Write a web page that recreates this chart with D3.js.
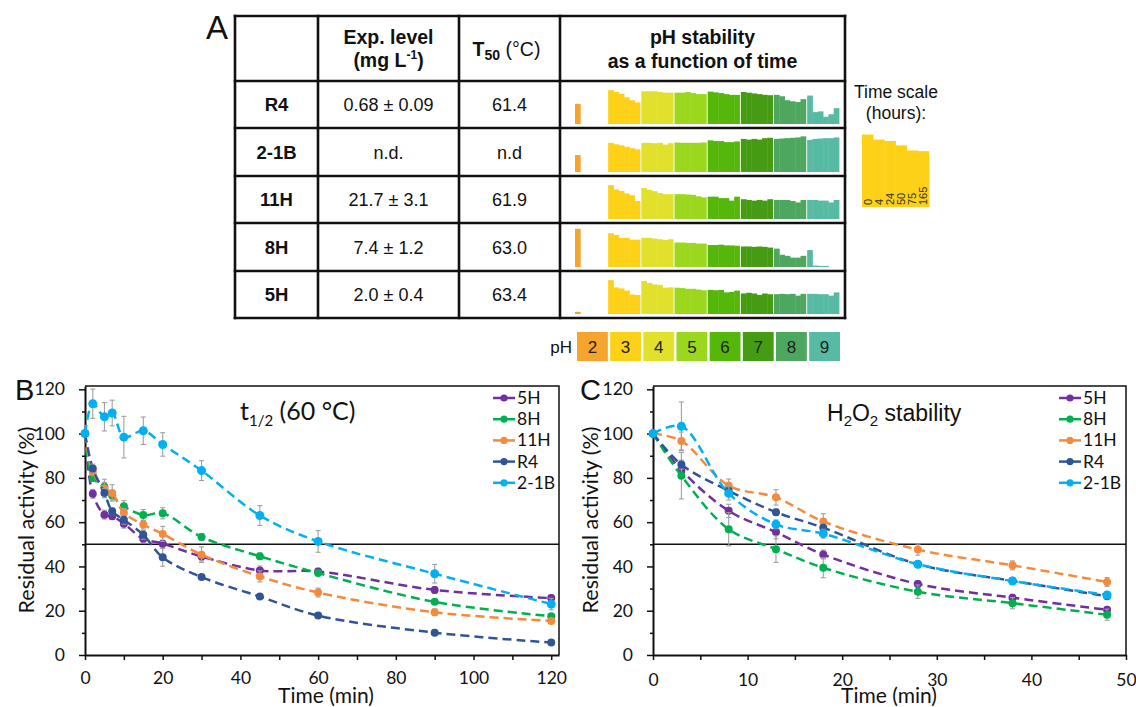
<!DOCTYPE html>
<html><head><meta charset="utf-8">
<script src="https://cdn.jsdelivr.net/npm/d3@7"></script>
<style>body{margin:0;background:#fff}svg{display:block}</style>
</head><body>
<svg id="c" width="1136" height="707"></svg>
<script>
// ===== Panel A data =====
const variants = ["R4", "2-1B", "11H", "8H", "5H"];
const expLevel = ["0.68 ± 0.09", "n.d.", "21.7 ± 3.1", "7.4 ± 1.2", "2.0 ± 0.4"];
const t50 = ["61.4", "n.d", "61.9", "63.0", "63.4"];
const phLevels = [2, 3, 4, 5, 6, 7, 8, 9];
const hours = ["0", "4", "24", "50", "75", "165"];
// relative activity (%) per pH (2..9) at 0, 4, 24, 50, 75, 165 h
const stabR4 = [[56], [94,89,84,74,66,60], [91,91,91,89,87,87], [87,87,89,86,83,83], [90,88,86,83,81,81], [89,87,85,83,81,80], [81,77,66,63,61,69], [79,33,35,20,27,44]];
const stab21B = [[47], [81,77,74,70,66,63], [81,81,80,81,76,80], [82,81,81,81,81,82], [88,86,86,83,83,85], [92,90,92,90,94,95], [92,93,94,95,96,99], [89,92,93,94,94,96]];
const stab11H = [[0], [94,82,78,71,66,50], [86,81,77,72,69,69], [69,69,68,67,63,60], [62,62,58,58,51,62], [55,53,51,53,51,55], [53,53,53,50,46,53], [53,53,51,51,46,53]];
const stab8H = [[106], [94,89,81,81,76,76], [81,81,79,77,75,77], [68,68,67,67,65,65], [61,61,62,60,60,59], [57,57,56,57,56,54], [51,34,31,26,26,31], [47,4,3,3,0,0]];
const stab5H = [[6], [94,74,71,65,54,53], [92,86,82,81,73,74], [73,72,70,70,68,66], [67,66,67,60,61,65], [57,59,57,53,57,55], [55,56,55,56,51,56], [56,56,55,55,51,60]];
const timeScaleDemo = [100, 93, 91, 85, 78, 77];
const phColors = ["#F5A42E", "#FCD118", "#E1E02C", "#9AD71D", "#55B70A", "#459C13", "#4EA75F", "#57BAA2"];

// ===== Panel B data (t1/2 at 60 °C) =====
const timesB = [0, 2, 5, 7, 10, 15, 20, 30, 45, 60, 90, 120];
const b5H   = [100, 72.8, 63.4, 62.7, 59.3, 52.5, 50.3, 44.5, 38.2, 37.7, 29.4, 25.7];
const b5Herr= [0, 2, 2, 1.5, 2, 1.5, 1.5, 2, 2, 1.5, 1.5, 1.5];
const b8H   = [100, 80, 76, 72, 67.2, 63.2, 64, 53.3, 44.6, 37, 24, 17.5];
const b8Herr= [0, 1.5, 2, 2, 2.5, 2.5, 2.5, 1.5, 1.5, 1, 1, 1];
const b11H  = [100, 82.7, 75.2, 73.2, 64.2, 58.9, 54.7, 45.3, 35.5, 28.2, 19.3, 15.4];
const b11Herr=[0, 1, 4.2, 3.7, 2, 2, 3.4, 3.5, 2.5, 2, 1.5, 1];
const bR4   = [100, 84.2, 73.2, 64.9, 61.1, 54.3, 44.1, 35.2, 26.4, 17.8, 10.1, 5.6];
const bR4err= [0, 2, 2, 1.5, 2, 2, 4, 1, 0.5, 0.5, 0.5, 0.5];
const b21B  = [100, 113.5, 107.6, 109.3, 98.4, 101.3, 95.1, 83.3, 63, 51.3, 36.7, 23];
const b21Berr=[0, 6.6, 6.4, 5.8, 9.4, 6.2, 5.3, 4.5, 4.5, 4.9, 4.2, 2.6];

// ===== Panel C data (H2O2 stability) =====
const timesC = [0, 3, 8, 13, 18, 28, 38, 48];
const c5H   = [100, 83.5, 65.1, 55.5, 45.4, 32.1, 25.9, 20.4];
const c5Herr= [0, 3, 3, 3, 2, 1.5, 1.5, 1.5];
const c8H   = [100, 81, 56.8, 47.8, 39.4, 28.6, 23.4, 18.2];
const c8Herr= [0, 10.5, 7.5, 6, 4.5, 3, 2.5, 2.5];
const c11H  = [100, 96.7, 76.5, 71.2, 60.3, 47.6, 40.5, 33];
const c11Herr=[0, 4, 3, 3.5, 3.5, 2.5, 2, 2];
const cR4   = [100, 86, 74.2, 64.5, 57.5, 41, 33.5, 26.5];
const cR4err= [0, 2, 2, 1.5, 2, 1, 1, 1];
const c21B  = [100, 103.3, 73, 59, 54.8, 41, 33.4, 27.1];
const c21Berr=[0, 11, 3, 2, 2, 1.5, 1.5, 1.5];

const seriesNames = ["5H", "8H", "11H", "R4", "2-1B"];
const seriesColors = ["#7030A0", "#00B050", "#F58A3C", "#2F5597", "#00B0F0"];

const svg = d3.select("#c");
const SANS = "'Liberation Sans', Arial, sans-serif";
const CAL = "Lato, sans-serif";

// ===== Panel A =====
(function () {
  const colX = [235, 318, 459, 560, 845];
  const rowY = [16, 81, 128, 176, 223, 271, 318];
  const g = svg.append("g").attr("font-family", SANS).attr("fill", "#111");

  g.append("text").attr("x", 206).attr("y", 39).attr("font-size", 33).text("A");

  const hdr = g.append("g").attr("font-weight", "bold").attr("font-size", 19.5).attr("text-anchor", "middle");
  const c1 = (colX[1] + colX[2]) / 2, c2 = (colX[2] + colX[3]) / 2, c3 = (colX[3] + colX[4]) / 2;
  hdr.append("text").attr("x", c1).attr("y", 44).text("Exp. level");
  const ml = hdr.append("text").attr("x", c1).attr("y", 67);
  ml.append("tspan").text("(mg L");
  ml.append("tspan").attr("font-size", 12).attr("dy", -8).text("-1");
  ml.append("tspan").attr("dy", 8).text(")");
  const tt = hdr.append("text").attr("x", c2 - 3).attr("y", 56);
  tt.append("tspan").text("T");
  tt.append("tspan").attr("font-size", 14).attr("dy", 4).text("50");
  tt.append("tspan").attr("dy", -4).attr("font-weight", "normal").text(" (°C)");
  hdr.append("text").attr("x", c3).attr("y", 44).text("pH stability");
  hdr.append("text").attr("x", c3).attr("y", 68).text("as a function of time");

  const c0 = (colX[0] + colX[1]) / 2;
  variants.forEach((v, i) => {
    const yc = (rowY[i + 1] + rowY[i + 2]) / 2 + 6.5;
    g.append("text").attr("x", c0).attr("y", yc).attr("text-anchor", "middle").attr("font-weight", "bold").attr("font-size", 18.5).text(v);
    g.append("text").attr("x", c1).attr("y", yc).attr("text-anchor", "middle").attr("font-size", 18).text(expLevel[i]);
    g.append("text").attr("x", c2).attr("y", yc).attr("text-anchor", "middle").attr("font-size", 18).text(t50[i]);
  });

  // mini bar charts
  const allStab = [stabR4, stab21B, stab11H, stab8H, stab5H];
  const xg = d3.scaleBand().domain(phLevels).range([575, 839]).paddingInner(0.04);
  const xi = d3.scaleBand().domain(d3.range(hours.length)).range([0, xg.bandwidth()]);
  const hScale = d3.scaleLinear().domain([0, 100]).range([0, 36]);
  allStab.forEach((rows, r) => {
    const base = rowY[r + 2] - 4;
    rows.forEach((vals, p) => {
      vals.forEach((v, k) => {
        if (v <= 0) return;
        g.append("rect")
          .attr("x", xg(phLevels[p]) + xi(k))
          .attr("width", xi.bandwidth() + 0.4)
          .attr("y", base - hScale(v))
          .attr("height", hScale(v))
          .attr("fill", phColors[p]);
      });
    });
  });

  // grid lines of the table
  const lines = g.append("g").attr("stroke", "#111").attr("stroke-width", 2.6).attr("stroke-linecap", "square");
  rowY.forEach(y => lines.append("line").attr("x1", colX[0]).attr("x2", colX[4]).attr("y1", y).attr("y2", y));
  colX.forEach(x => lines.append("line").attr("x1", x).attr("x2", x).attr("y1", rowY[0]).attr("y2", rowY[rowY.length - 1]));

  // time scale legend
  g.append("text").attr("x", 896).attr("y", 98).attr("text-anchor", "middle").attr("font-size", 17.5).text("Time scale");
  g.append("text").attr("x", 896).attr("y", 119).attr("text-anchor", "middle").attr("font-size", 17.5).text("(hours):");
  const xt = d3.scaleBand().domain(hours).range([862, 929]);
  const ht = d3.scaleLinear().domain([0, 100]).range([0, 72.5]);
  hours.forEach((h, k) => {
    g.append("rect").attr("x", xt(h)).attr("width", xt.bandwidth() + 0.4)
      .attr("y", 207 - ht(timeScaleDemo[k])).attr("height", ht(timeScaleDemo[k])).attr("fill", phColors[1]);
  });
  hours.forEach((h, k) => {
    const cx = xt(h) + xt.bandwidth() / 2;
    g.append("text").attr("transform", `translate(${cx + 4},205) rotate(-90)`)
      .attr("font-size", 11).attr("fill", "#333").text(h);
  });

  // pH legend
  g.append("text").attr("x", 572).attr("y", 353).attr("text-anchor", "end").attr("font-size", 17).text("pH");
  phLevels.forEach((p, k) => {
    g.append("rect").attr("x", xg(p) + 2).attr("width", xg.bandwidth() - 1).attr("y", 332).attr("height", 29).attr("fill", phColors[k]);
    g.append("text").attr("x", xg(p) + 2 + (xg.bandwidth() - 1) / 2).attr("y", 353).attr("text-anchor", "middle").attr("font-size", 17).attr("fill", "#222").text(p);
  });
})();

// ===== Line charts =====
const yMax = 121.5;
function drawChart(cfg) {
  const x = d3.scaleLinear().domain(cfg.xDomain).range(cfg.xRange);
  const y = d3.scaleLinear().domain([0, yMax]).range([655, 386]);
  const [x0, x1] = cfg.xRange;
  const g = svg.append("g");

  g.append("path").attr("d", `M${x0},${y(yMax)}H${x1}V${y(0)}`).attr("fill", "none").attr("stroke", "#111").attr("stroke-width", 1.5);
  g.append("line").attr("x1", x0).attr("x2", x1).attr("y1", y(50)).attr("y2", y(50)).attr("stroke", "#111").attr("stroke-width", 1.5);

  const yMajor = d3.range(0, 121, 20), yMinor = d3.range(10, 120, 20);
  g.append("g").attr("transform", `translate(${x0},0)`)
    .call(d3.axisLeft(y).tickValues(yMajor).tickSize(6).tickPadding(cfg.yPad).tickSizeOuter(0));
  g.append("g").attr("transform", `translate(${x0},0)`)
    .call(d3.axisLeft(y).tickValues(yMinor).tickSize(3).tickFormat("").tickSizeOuter(0))
    .select(".domain").remove();
  g.append("g").attr("transform", `translate(0,${y(0)})`)
    .call(d3.axisBottom(x).tickValues(cfg.xMajor).tickSize(5).tickPadding(cfg.xPad).tickSizeOuter(0));
  g.append("g").attr("transform", `translate(0,${y(0)})`)
    .call(d3.axisBottom(x).tickValues(cfg.xMinor).tickSize(5).tickFormat("").tickSizeOuter(0))
    .select(".domain").remove();
  g.selectAll(".domain").attr("stroke", "#111").attr("stroke-width", 2);
  g.selectAll(".tick line").attr("stroke", "#111").attr("stroke-width", 1.5);
  g.selectAll(".tick text").attr("font-family", CAL).attr("font-size", 17.5).attr("fill", "#111");

  // titles
  g.append("text").attr("x", cfg.xTitleX).attr("y", cfg.xTitleY).attr("text-anchor", "middle")
    .attr("font-family", CAL).attr("font-size", 21).attr("fill", "#111").text("Time (min)");
  g.append("text").attr("transform", `translate(${cfg.yTitleX},520) rotate(-90)`).attr("text-anchor", "middle")
    .attr("font-family", CAL).attr("font-size", 21.5).attr("fill", "#111").text("Residual activity (%)");
  g.append("text").attr("x", cfg.letterX).attr("y", 400).attr("font-family", SANS).attr("font-size", 29).attr("fill", "#111").text(cfg.letter);

  cfg.drawLabel(g);

  const line = d3.line().x(d => x(d.t)).y(d => y(d.v)).curve(d3.curveCatmullRom.alpha(0.5));
  cfg.series.forEach((s, si) => {
    const pts = cfg.times.map((t, i) => ({ t, v: s.values[i], e: s.err[i] }));
    const sg = g.append("g");
    sg.append("path").attr("d", line(pts)).attr("fill", "none").attr("stroke", seriesColors[si])
      .attr("stroke-width", 2.5).attr("stroke-dasharray", "9,5");
    pts.filter(d => d.e > 0).forEach(d => {
      const px = x(d.t);
      const eg = sg.append("g").attr("stroke", "#A0A0A0").attr("stroke-width", 1.1);
      eg.append("line").attr("x1", px).attr("x2", px).attr("y1", y(d.v - d.e)).attr("y2", y(d.v + d.e));
      eg.append("line").attr("x1", px - 2.5).attr("x2", px + 2.5).attr("y1", y(d.v - d.e)).attr("y2", y(d.v - d.e));
      eg.append("line").attr("x1", px - 2.5).attr("x2", px + 2.5).attr("y1", y(d.v + d.e)).attr("y2", y(d.v + d.e));
    });
    sg.selectAll("circle").data(pts).join("circle")
      .attr("cx", d => x(d.t)).attr("cy", d => y(d.v))
      .attr("r", s.name === "2-1B" ? 4.5 : 4).attr("fill", seriesColors[si]);
  });

  // legend
  const lg = g.append("g");
  cfg.series.forEach((s, si) => {
    const ly = 398 + si * 21.2;
    lg.append("line").attr("x1", cfg.legX).attr("x2", cfg.legX + 8).attr("y1", ly).attr("y2", ly).attr("stroke", seriesColors[si]).attr("stroke-width", 2.5);
    lg.append("line").attr("x1", cfg.legX + 14).attr("x2", cfg.legX + 22).attr("y1", ly).attr("y2", ly).attr("stroke", seriesColors[si]).attr("stroke-width", 2.5);
    lg.append("circle").attr("cx", cfg.legX + 11).attr("cy", ly).attr("r", 3.6).attr("fill", seriesColors[si]);
    lg.append("text").attr("x", cfg.legX + 24).attr("y", ly + 6).attr("font-family", CAL).attr("font-size", 17.5).attr("fill", "#111").text(s.name);
  });
}

drawChart({
  xDomain: [0, 122], xRange: [85, 559],
  xMajor: d3.range(0, 121, 20), xMinor: d3.range(10, 120, 20),
  yPad: 14, xPad: 12,
  xTitleX: 326, xTitleY: 703, yTitleX: 34, letter: "B", letterX: 15, legX: 493,
  times: timesB,
  series: [
    { name: seriesNames[0], values: b5H, err: b5Herr },
    { name: seriesNames[1], values: b8H, err: b8Herr },
    { name: seriesNames[2], values: b11H, err: b11Herr },
    { name: seriesNames[3], values: bR4, err: bR4err },
    { name: seriesNames[4], values: b21B, err: b21Berr }
  ],
  drawLabel: g => {
    const t = g.append("text").attr("x", 240).attr("y", 420).attr("font-family", CAL).attr("font-size", 25).attr("fill", "#111");
    t.append("tspan").text("t");
    t.append("tspan").attr("font-size", 15).attr("dy", 6).text("1/2");
    t.append("tspan").attr("dy", -6).text(" (60 °C)");
  }
});

drawChart({
  xDomain: [0, 50], xRange: [653, 1126],
  xMajor: d3.range(0, 51, 10), xMinor: d3.range(5, 50, 10),
  yPad: 14, xPad: 14,
  xTitleX: 889, xTitleY: 703, yTitleX: 598, letter: "C", letterX: 580, legX: 1059,
  times: timesC,
  series: [
    { name: seriesNames[0], values: c5H, err: c5Herr },
    { name: seriesNames[1], values: c8H, err: c8Herr },
    { name: seriesNames[2], values: c11H, err: c11Herr },
    { name: seriesNames[3], values: cR4, err: cR4err },
    { name: seriesNames[4], values: c21B, err: c21Berr }
  ],
  drawLabel: g => {
    const t = g.append("text").attr("x", 827).attr("y", 421).attr("font-family", SANS).attr("font-size", 23).attr("fill", "#111");
    t.append("tspan").text("H");
    t.append("tspan").attr("font-size", 15).attr("dy", 5).text("2");
    t.append("tspan").attr("dy", -5).text("O");
    t.append("tspan").attr("font-size", 15).attr("dy", 5).text("2");
    t.append("tspan").attr("dy", -5).text(" stability");
  }
});
</script>
</body></html>
